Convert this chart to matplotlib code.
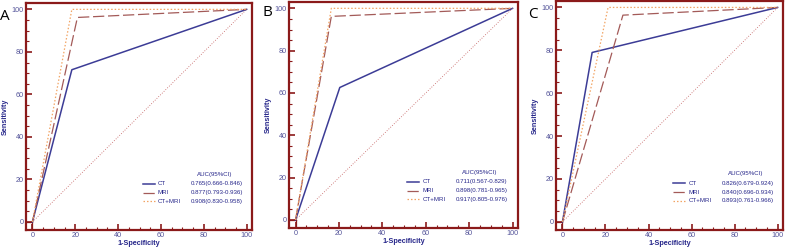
import matplotlib
matplotlib.use("Agg")
import matplotlib.pyplot as plt
from matplotlib.ticker import MultipleLocator

plt.rcParams['font.family'] = ['Liberation Sans', 'DejaVu Sans']

panels = ["A", "B", "C"]
series_names = ["CT", "MRI", "CT+MRI"]

# ROC curves: (1-specificity, sensitivity) points in %
ct_x = [[0, 18.4, 100], [0, 20.4, 100], [0, 13.8, 100]]
ct_y = [[0, 71.6, 100], [0, 62.6, 100], [0, 79.0, 100]]
mri_x = [[0, 21.0, 100], [0, 16.5, 100], [0, 28.1, 100]]
mri_y = [[0, 96.2, 100], [0, 96.2, 100], [0, 96.4, 100]]
comb_x = [[0, 18.4, 100], [0, 16.5, 100], [0, 21.2, 100]]
comb_y = [[0, 100, 100], [0, 100, 100], [0, 100, 100]]

auc_text = [
    ["0.765(0.666-0.846)", "0.877(0.793-0.936)", "0.908(0.830-0.958)"],
    ["0.711(0.567-0.829)", "0.898(0.781-0.965)", "0.917(0.805-0.976)"],
    ["0.826(0.679-0.924)", "0.840(0.696-0.934)", "0.893(0.761-0.966)"],
]
ticks = [0, 20, 40, 60, 80, 100]

spine_c = "#8b1a1a"
tick_lab_c = "#55559a"
label_c = "#26268a"
colors = ["#3c3c96", "#a35a58", "#f2a464"]
styles = ["-", (0, (9, 3)), (0, (1.2, 1.6))]
widths = [1.1, 0.9, 0.9]

fig = plt.figure(figsize=(7.86, 2.47), dpi=100)
positions = [
    [26 / 786, 17 / 247, 226 / 786, 227 / 247],
    [289 / 786, 19 / 247, 229 / 786, 226 / 247],
    [556 / 786, 17 / 247, 227 / 786, 229 / 247],
]
letter_pos = [(0 / 786, 1 - 17 / 247), (263 / 786, 1 - 13 / 247), (528 / 786, 1 - 14 / 247)]

for i, name in enumerate(panels):
    ax = fig.add_axes(positions[i])
    ax.set_xlim(-3, 102.5)
    ax.set_ylim(-3.8, 103)
    for s in ax.spines.values():
        s.set_color(spine_c)
        s.set_linewidth(1.6)
    ax.xaxis.set_major_locator(MultipleLocator(20))
    ax.yaxis.set_major_locator(MultipleLocator(20))
    ax.xaxis.set_minor_locator(MultipleLocator(5))
    ax.yaxis.set_minor_locator(MultipleLocator(5))
    ax.tick_params(which="major", direction="in", length=4, width=1.2, color=spine_c,
                   labelsize=5.2, labelcolor=tick_lab_c, pad=1.5, top=False, right=False)
    ax.tick_params(which="minor", direction="in", length=2, width=0.8, color=spine_c,
                   top=False, right=False)
    ax.set_xticks(ticks)
    ax.set_yticks(ticks)
    ax.set_xlabel("1-Specificity", fontsize=5.2, fontweight="bold", color=label_c, labelpad=0.5)
    ax.set_ylabel("Sensitivity", fontsize=5.2, fontweight="bold", color=label_c, labelpad=2)

    # small origin frame
    ax.plot([-3, 0], [0, 0], color=spine_c, lw=0.9)
    ax.plot([0, 0], [-3.8, 0], color=spine_c, lw=0.9)

    ax.plot([0, 100], [0, 100], color="#c25a5a", lw=0.6, linestyle=(0, (1, 2)))
    xs = [ct_x[i], mri_x[i], comb_x[i]]
    ys = [ct_y[i], mri_y[i], comb_y[i]]
    for k in range(3):
        ax.plot(xs[k], ys[k], color=colors[k], linestyle=styles[k], lw=widths[k])

    # legend
    ax.text(85, 22.5, "AUC(95%CI)", fontsize=4.4, color=label_c, ha="center", va="center")
    rows = [18.0, 13.8, 9.8]
    for k in range(3):
        ax.plot([51.5, 57], [rows[k], rows[k]], color=colors[k], linestyle=styles[k], lw=widths[k])
        ax.text(58.5, rows[k], series_names[k], fontsize=4.4, color=label_c, ha="left", va="center")
        ax.text(74, rows[k], auc_text[i][k], fontsize=4.4, color=label_c, ha="left", va="center")

    fig.text(letter_pos[i][0], letter_pos[i][1], name, fontsize=11, family="Open Sans",
             color="black", ha="left", va="center")

fig.savefig("out.png", dpi=100)
